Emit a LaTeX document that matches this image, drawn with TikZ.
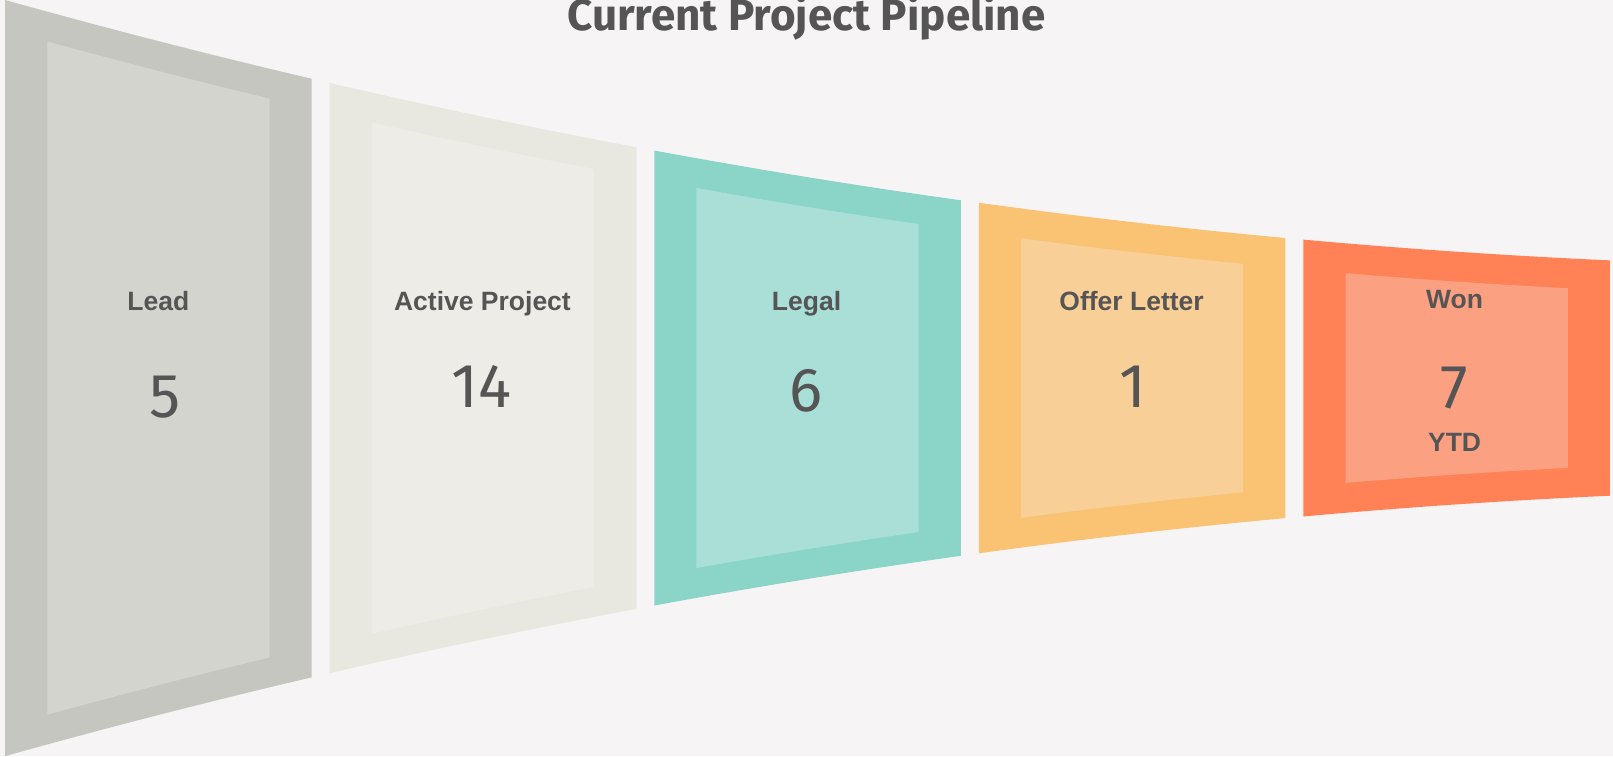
\documentclass[tikz,border=0pt]{standalone}
\usepackage{fontspec}
\setmainfont{Liberation Sans}
\newfontfamily\numfont{Fira Sans}
\usetikzlibrary{positioning}

\definecolor{bg}{HTML}{F6F4F5}
\definecolor{txt}{HTML}{555555}
\definecolor{leadout}{HTML}{C5C6BF}
\definecolor{leadin}{HTML}{D3D4CE}
\definecolor{activeout}{HTML}{E8E8E0}
\definecolor{activein}{HTML}{EDECE7}
\definecolor{legalout}{HTML}{8AD5C8}
\definecolor{legalin}{HTML}{A9DFD7}
\definecolor{offerout}{HTML}{FAC273}
\definecolor{offerin}{HTML}{F9CF98}
\definecolor{wonout}{HTML}{FF8155}
\definecolor{wonin}{HTML}{FCA082}

\begin{document}
\begin{tikzpicture}[x=1.0287pt, y=-1.0287pt,
    declare function={ytop(\x)=28*(\x/100-0.05)-0.75*((\x/100)^2-0.0025);},
    stage/.style={anchor=base, text=txt, font=\bfseries\fontsize{26.5}{30}\selectfont},
    count/.style={anchor=base, text=txt, font=\numfont\fontsize{62}{70}\selectfont}]
    \fill[bg] (0, 0) rectangle (1568, 735);
    \useasboundingbox (0, 0) rectangle (1568, 735);

    % funnel stages: left edge / outer colour / inner colour
    \foreach \a/\outer/\inner in {5/leadout/leadin, 320.5/activeout/activein,
        636/legalout/legalin, 951.5/offerout/offerin, 1267/wonout/wonin} {
        \pgfmathsetmacro\b{\a+298}
        \pgfmathsetmacro\c{\a+41}
        \pgfmathsetmacro\d{\b-41}
        \fill[\outer] plot[domain=\a:\b, samples=40] (\x, {ytop(\x)})
            -- plot[domain=\b:\a, samples=40] (\x, {735-ytop(\x)}) -- cycle;
        \fill[\inner] plot[domain=\c:\d, samples=40] (\x, {ytop(\x)+29})
            -- plot[domain=\d:\c, samples=40] (\x, {706-ytop(\x)}) -- cycle;
    }

    \node[anchor=base, text=txt, font=\numfont\bfseries\fontsize{44}{48}\selectfont] (title) at (784, 29.5) {Current Project Pipeline};

    \node[stage] (lead) at (154, 301.5) {Lead};
    \node[count] (leadnum) at (160, 406) {5};
    \node[stage] (active) at (469, 301.5) {Active Project};
    \node[count] (activenum) at (468, 396.5) {14};
    \node[stage] (legal) at (784, 301.5) {Legal};
    \node[count] (legalnum) at (784, 400.5) {6};
    \node[stage] (offer) at (1100, 301.5) {Offer Letter};
    \node[count] (offernum) at (1101, 396.5) {1};
    \node[stage] (won) at (1414, 299.7) {Won};
    \node[count] (wonnum) at (1414, 397) {7};
    \node[stage] (ytd) at (1414, 439) {YTD};
\end{tikzpicture}
\end{document}
